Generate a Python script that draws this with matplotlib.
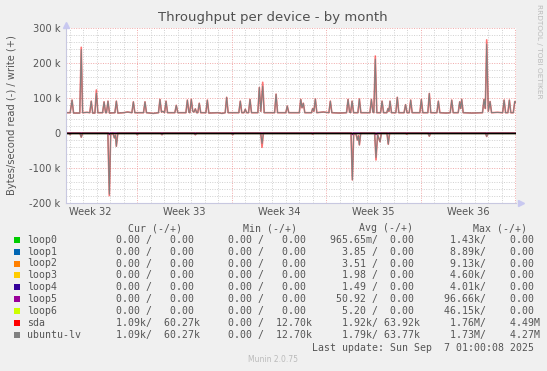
import matplotlib
matplotlib.use("Agg")
import matplotlib.pyplot as plt
from matplotlib.patches import Rectangle

W, H = 547, 371

# x = days since Mon 2025-08-04 00:00
# sda write (+), kB/s
wr_days = [0.74, 1.05, 1.19, 1.30, 1.76, 1.87, 1.97, 2.30, 2.50, 2.61, 2.72, 2.88, 2.99, 3.10,
           3.45, 3.56, 3.67, 3.74, 3.85, 3.96, 4.36, 4.47, 4.58, 5.00, 5.30, 5.62, 5.73, 5.84,
           6.48, 6.59, 6.70, 7.20, 7.59, 7.70, 7.81, 7.92, 8.04, 8.15, 8.26, 8.80, 8.91, 9.02,
           9.62, 9.73, 9.84, 9.91, 10.02, 10.13, 10.22, 10.32, 10.42, 10.50, 10.61, 10.72,
           11.10, 11.21, 11.32, 12.00, 12.30, 12.53, 12.64, 12.75, 13.54, 13.65, 13.76,
           13.92, 14.02, 14.12, 14.26, 14.37, 14.48, 14.95, 15.06, 15.17, 15.31, 15.42,
           16.19, 16.30, 16.41, 17.02, 17.13, 17.24, 18.02, 18.13, 18.22, 18.32, 18.43,
           18.92, 19.01, 19.10, 19.21, 19.32, 19.80, 20.21, 20.32, 20.43, 21.00, 21.52, 21.63,
           21.74, 21.82, 21.93, 22.04, 22.36, 22.47, 22.58, 23.25, 23.36, 23.47, 23.54, 23.65,
           23.76, 24.04, 24.15, 24.26, 24.50, 24.59, 24.66, 24.74, 24.85, 25.17, 25.28, 25.39,
           25.78, 25.89, 26.00, 26.16, 26.27, 26.38, 26.95, 27.06, 27.17, 27.54, 27.65, 27.76,
           28.21, 28.32, 28.43, 28.90, 29.20, 29.31, 29.42, 29.79, 29.90, 29.97, 30.05, 30.16,
           30.80, 31.59, 31.70, 31.80, 31.90, 32.02, 32.15, 32.26, 32.70, 33.08, 33.19, 33.30,
           33.47, 33.58, 33.69, 33.87, 33.98, 34.04]
wr_vals = [58, 58, 94, 57, 57, 245, 58, 59, 58, 91, 57, 57, 123, 58,
           58, 89, 58, 58, 91, 57, 58, 91, 57, 58, 60, 58, 89, 58,
           58, 89, 58, 56, 58, 96, 60, 62, 58, 91, 58, 58, 79, 58,
           58, 94, 60, 58, 96, 62, 60, 69, 58, 58, 85, 58,
           58, 94, 57, 58, 56, 58, 102, 58, 58, 91, 58,
           58, 68, 58, 58, 96, 58, 58, 130, 62, 145, 58,
           58, 111, 58, 58, 77, 58, 58, 96, 72, 85, 58,
           58, 70, 62, 97, 58, 60, 58, 91, 58, 57, 58, 96,
           60, 58, 91, 58, 58, 97, 58, 58, 96, 60, 58, 220,
           58, 58, 91, 58, 58, 70, 62, 91, 58, 58, 102, 58,
           58, 81, 58, 58, 94, 58, 58, 96, 58, 58, 113, 58,
           58, 91, 58, 57, 58, 94, 58, 58, 89, 70, 96, 58,
           57, 58, 96, 70, 266, 62, 90, 58, 59, 58, 94, 58,
           58, 94, 58, 58, 90, 88]
# ubuntu-lv write peaks that sit below sda's
lv_wr_peaks = {1.87: 238, 2.99: 114, 15.31: 134, 23.65: 211, 31.90: 254}

# sda read (-), kB/s
rd_days = [0.74, 0.95, 1.04, 1.13, 1.77, 1.87, 1.97, 3.84, 3.95, 4.05, 4.21, 4.32, 4.40, 4.47,
           4.58, 5.92, 6.02, 6.12, 7.75, 7.85, 7.95, 10.22, 10.32, 10.42, 12.99, 13.09, 13.19,
           15.16, 15.26, 15.36, 18.91, 19.01, 19.11, 21.85, 21.95, 22.05, 22.22, 22.32, 22.40,
           22.47, 22.57, 23.60, 23.70, 23.82, 24.00, 24.10, 24.51, 24.61, 24.71, 25.88, 25.98,
           26.08, 27.55, 27.65, 27.75, 31.80, 31.90, 32.00, 34.04]
rd_vals = [0, 0, 5, 0, 0, 12, 0, 0, 179, 3, 0, 14, 6, 38,
           0, 0, 5, 0, 0, 5, 0, 0, 5, 0, 0, 5, 0,
           0, 41, 0, 0, 3, 0, 0, 134, 2, 3, 20, 8,
           34, 0, 0, 77, 5, 25, 0, 0, 32, 0, 0, 3,
           0, 0, 9, 0, 0, 10, 0, 0]
lv_rd_peaks = {3.95: 175, 15.26: 30, 23.70: 70}

# loop5 small reads
l5_days = [0.74, 3.90, 3.95, 4.00, 21.90, 21.95, 22.00, 23.65, 23.70, 23.75, 34.04]
l5_vals = [0, 0, 5, 0, 0, 5, 0, 0, 5, 0, 0]

names = ['loop0', 'loop1', 'loop2', 'loop3', 'loop4', 'loop5', 'loop6', 'sda', 'ubuntu-lv']
colors = ['#00CC00', '#0066B3', '#FF8000', '#FFCC00', '#330099', '#990099', '#CCFF00',
          '#FF0000', '#808080']
cur_r = ['0.00'] * 7 + ['1.09k', '1.09k']
cur_w = ['0.00'] * 7 + ['60.27k', '60.27k']
min_r = ['0.00'] * 9
min_w = ['0.00'] * 7 + ['12.70k', '12.70k']
avg_r = ['965.65m', '3.85', '3.51', '1.98', '1.49', '50.92', '5.20', '1.92k', '1.79k']
avg_w = ['0.00'] * 7 + ['63.92k', '63.77k']
max_r = ['1.43k', '8.89k', '9.13k', '4.60k', '4.01k', '96.66k', '46.15k', '1.76M', '1.73M']
max_w = ['0.00'] * 7 + ['4.49M', '4.27M']

week_pos = [2.5, 9.5, 16.5, 23.5, 30.5]
week_lbl = ['Week 32', 'Week 33', 'Week 34', 'Week 35', 'Week 36']
yticks = [-200, -100, 0, 100, 200, 300]
ylbls = ['-200 k', '-100 k', '0', '100 k', '200 k', '300 k']

txt = '#555555'
fig = plt.figure(figsize=(W / 100, H / 100), dpi=100, facecolor='#F0F0F0')
ax = fig.add_axes([66 / W, (H - 203) / H, 450.4 / W, 175 / H])
ax.set_facecolor('white')
ax.set_xlim(0.74, 34.1)
ax.set_ylim(-200, 300)

# grid
dot = (0, (1, 1.5))
for d in range(1, 35):
    if d % 7 == 6:
        continue
    ax.axvline(d, color='#D0D0D0', lw=0.7, ls=dot, zorder=0)
for v in range(-180, 300, 20):
    if v % 100:
        ax.axhline(v, color='#D0D0D0', lw=0.7, ls=dot, zorder=0)
for d in [6, 13, 20, 27, 34]:
    ax.axvline(d, color='#F0A8A8', lw=0.7, ls=dot, zorder=0)
for v in [-100, 100, 200, 300]:
    ax.axhline(v, color='#F0A8A8', lw=0.7, ls=dot, zorder=0)

# series
for i in range(7):
    ax.plot([0.74, 34.04], [0, 0], color=colors[i], lw=0.8)
ax.plot(l5_days, [-v for v in l5_vals], color=colors[5], lw=0.8)
lv_wr = [lv_wr_peaks.get(d, v) for d, v in zip(wr_days, wr_vals)]
lv_rd = [lv_rd_peaks.get(d, v) for d, v in zip(rd_days, rd_vals)]
ax.plot(wr_days, wr_vals, color='#FF0000', lw=1.2, alpha=0.55)
ax.plot(rd_days, [-v for v in rd_vals], color='#FF0000', lw=1.2, alpha=0.55)
ax.plot(wr_days, lv_wr, color='#808080', lw=0.75)
ax.plot(rd_days, [-v for v in lv_rd], color='#808080', lw=0.75)
ax.axhline(0, color='black', lw=1.0)

# axes look
for s in ['top', 'right']:
    ax.spines[s].set_visible(False)
for s in ['left', 'bottom']:
    ax.spines[s].set_color('#C8C8E0')
    ax.spines[s].set_linewidth(0.8)
ax.plot([0], [1.02], marker='^', ms=4, color='#C8C8F0', transform=ax.transAxes, clip_on=False)
ax.plot([1.01], [0], marker='>', ms=4, color='#C8C8F0', transform=ax.transAxes, clip_on=False)

ax.set_yticks(yticks)
ax.set_yticklabels(ylbls)
ax.set_xticks(week_pos)
ax.set_xticklabels(week_lbl)
ax.tick_params(axis='both', length=0, pad=4, labelsize=7.1, labelcolor=txt)
ax.tick_params(axis='x', pad=3)

# texts
def fx(x):
    return x / W

def fy(y):
    return 1 - y / H

fig.text(fx(273), fy(18), 'Throughput per device - by month', ha='center', va='center',
         fontsize=9.5, color='#505050')
fig.text(fx(12), fy(115), 'Bytes/second read (-) / write (+)', rotation=90, ha='center',
         va='center', fontsize=7.1, color=txt)
fig.text(fx(539), fy(4), 'RRDTOOL / TOBI OETIKER', rotation=270, ha='center', va='top',
         fontsize=5.3, color='#BBBBBB')

mono = 'DejaVu Sans Mono'
for x, s in [(155, 'Cur (-/+)'), (270, 'Min (-/+)'), (386, 'Avg (-/+)'), (500, 'Max (-/+)')]:
    fig.text(fx(x), fy(228), s, ha='center', va='center', family=mono, fontsize=7.1, color=txt)


def split(v):
    if v[-1].isalpha():
        return v[:-1], v[-1]
    return v, ' '


def cell(r, w, gw):
    rn, rs = split(r)
    wn, ws = split(w)
    return f"{rn:>6}{rs}/{wn:>{gw}}{ws}"


cols = [(104.1, 7, cur_r, cur_w), (215.8, 7, min_r, min_w), (330.1, 6, avg_r, avg_w),
        (437.7, 8, max_r, max_w)]
for i, n in enumerate(names):
    y = 239.7 + i * 11.9
    fig.add_artist(Rectangle((fx(14), fy(y + 3)), 6 / W, 6 / H, transform=fig.transFigure,
                             facecolor=colors[i], edgecolor='none'))
    fig.text(fx(27), fy(y), n, ha='left', va='center', family=mono, fontsize=7.1, color=txt)
    for sx, gw, rl, wl in cols:
        fig.text(fx(sx), fy(y), cell(rl[i], wl[i], gw), ha='left', va='center', family=mono,
                 fontsize=7.1, color=txt)

fig.text(fx(311.7), fy(347.7), 'Last update: Sun Sep  7 01:00:08 2025', ha='left',
         va='center', family=mono, fontsize=7.1, color=txt)
fig.text(fx(272.5), fy(360), 'Munin 2.0.75', ha='center', va='center', fontsize=5.5,
         color='#BBBBBB')

fig.savefig('out.png', dpi=100, facecolor=fig.get_facecolor())
